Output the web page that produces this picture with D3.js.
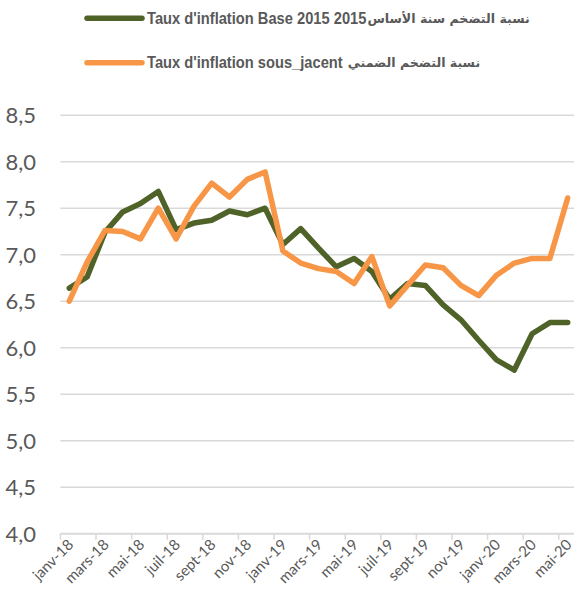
<!DOCTYPE html>
<html><head><meta charset="utf-8">
<script src="https://cdn.jsdelivr.net/npm/d3@7"></script>
<style>
html,body{margin:0;padding:0;background:#fff;}
svg{display:block;}
</style></head>
<body>
<svg id="chart" width="574" height="605"></svg>
<script>
const months = ["janv-18","févr-18","mars-18","avr-18","mai-18","juin-18","juil-18","août-18","sept-18","oct-18","nov-18","déc-18",
"janv-19","févr-19","mars-19","avr-19","mai-19","juin-19","juil-19","août-19","sept-19","oct-19","nov-19","déc-19",
"janv-20","févr-20","mars-20","avr-20","mai-20"];
const inflationBase2015 = [6.64,6.76,7.24,7.46,7.55,7.68,7.27,7.34,7.37,7.47,7.43,7.50,
7.11,7.28,7.07,6.87,6.96,6.82,6.52,6.69,6.67,6.46,6.30,6.08,5.87,5.76,6.15,6.27,6.27];
const inflationSousJacent = [6.50,6.92,7.26,7.25,7.17,7.50,7.17,7.52,7.77,7.62,7.81,7.89,
7.04,6.91,6.85,6.82,6.69,6.98,6.45,6.67,6.89,6.86,6.67,6.56,6.78,6.91,6.96,6.96,7.61];
const yTicks = [4.0,4.5,5.0,5.5,6.0,6.5,7.0,7.5,8.0,8.5];
const labelMonths = months.filter((m,i)=>i%2===0);
const seriesLatin = ["Taux d'inflation Base 2015 2015", "Taux d'inflation sous_jacent "];
const seriesArabic = ["نسبة التضخم سنة الأساس", "نسبة التضخم الضمني"];
const colors = ["#4F6228","#F79646"];

const svg = d3.select("#chart");
const left = 60.4, bw = 17.8;
const x = d3.scaleBand().domain(months).range([left, left + months.length*bw]).padding(0);
const y = d3.scaleLinear().domain([4,8.5]).range([533.7,115.2]);
const fmt = v => d3.format(".1f")(v).replace(".", ",");

// gridlines
svg.append("g").selectAll("line").data(yTicks.filter(v=>v>4)).join("line")
  .attr("x1", left).attr("x2", 574)
  .attr("y1", d=>y(d)).attr("y2", d=>y(d))
  .attr("stroke","#D9D9D9").attr("stroke-width",1.5);

// y axis labels
const yAxis = d3.axisLeft(y).tickValues(yTicks).tickFormat(fmt).tickSize(0).tickPadding(0);
const gy = svg.append("g").attr("transform","translate(36,0)").call(yAxis);
gy.select(".domain").remove();
gy.selectAll("text").attr("font-family","Lato, 'Open Sans', sans-serif").attr("font-size",22)
  .attr("fill","#595959").attr("dy","0.35em");

// x axis
const xAxis = d3.axisBottom(x).tickValues(labelMonths).tickSize(0).tickPadding(0);
const gx = svg.append("g").attr("transform",`translate(0,${y(4)})`).call(xAxis);
gx.select(".domain").remove();
gx.selectAll("text")
  .attr("font-family","Lato, 'Open Sans', sans-serif").attr("font-size",15).attr("fill","#595959")
  .attr("text-anchor","end").attr("dy",null).attr("y",0)
  .attr("transform","translate(5,12) rotate(-45)");
// axis line & ticks
svg.append("line").attr("x1",left).attr("x2",574).attr("y1",y(4)).attr("y2",y(4))
  .attr("stroke","#D9D9D9").attr("stroke-width",2);
svg.append("g").selectAll("line").data(labelMonths).join("line")
  .attr("x1",d=>x(d)).attr("x2",d=>x(d)).attr("y1",y(4)).attr("y2",y(4)+6)
  .attr("stroke","#D9D9D9").attr("stroke-width",1.5);

// lines
const line = d3.line().x((d,i)=>x(months[i])+bw/2).y(d=>y(d));
[inflationBase2015, inflationSousJacent].forEach((s,k)=>{
  svg.append("path").datum(s).attr("d",line).attr("fill","none")
    .attr("stroke",colors[k]).attr("stroke-width",5.5)
    .attr("stroke-linejoin","round").attr("stroke-linecap","round");
});

// legend
const legY = [18.3, 62.7];
const sx = 0.89;
seriesLatin.forEach((name,k)=>{
  svg.append("line").attr("x1",87).attr("x2",142).attr("y1",legY[k]).attr("y2",legY[k])
    .attr("stroke",colors[k]).attr("stroke-width",5.5).attr("stroke-linecap","round");
  const g = svg.append("g").attr("transform",`translate(147,${legY[k]}) scale(${sx},1)`);
  const t = g.append("text").attr("x",0).attr("y",0).attr("dy","0.35em")
    .attr("font-family","'Liberation Sans', sans-serif").attr("font-weight","bold")
    .attr("font-size",16.5).attr("fill","#595959").style("white-space","pre").text(name);
  const w = t.node().getComputedTextLength() * sx;
  svg.append("text").attr("x",147 + w + 1).attr("y",legY[k]).attr("dy","0.35em")
    .attr("font-family","'DejaVu Sans', sans-serif").attr("font-weight","bold")
    .attr("font-size",12.6).attr("fill","#595959").attr("direction","rtl").attr("text-anchor","end")
    .style("white-space","pre").text(seriesArabic[k]);
});
</script>
</body></html>
